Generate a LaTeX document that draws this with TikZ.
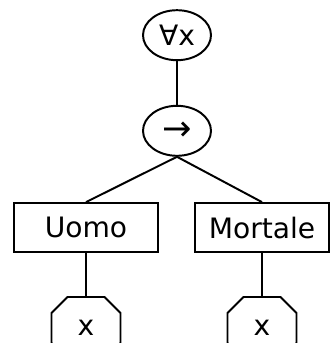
\documentclass[tikz,border=0pt]{standalone}
\usepackage{fontspec}
\setmainfont{DejaVu Sans}
\usepackage{tikz}
\usetikzlibrary{shapes.misc, positioning}
\usetikzlibrary{shapes.geometric}
\tikzstyle{quant} = [ellipse, minimum width=1.7cm, minimum height=1.25cm, inner sep=0pt, text centered, draw=black]
\tikzstyle{pred} = [rectangle, minimum width=3.6cm, minimum height=1.225cm, text centered, draw=black]
\tikzstyle{var} = [chamfered rectangle, chamfered rectangle xsep=0.325cm, chamfered rectangle ysep=0.325cm, minimum width=1.725cm, minimum height=1.55cm, inner sep=0pt, text centered, draw=black]
\tikzstyle{link} = [line width=1.4pt]

\begin{document}
\begin{tikzpicture}[node distance=2.42cm, line width=1.4pt, font=\fontsize{20}{24}\selectfont]
    \useasboundingbox (-4.425,0.85) rectangle (3.825,-7.725);
    \node (forall) [quant, yshift=-0.03cm]{∀x};
    \node (impl) [quant, below of = forall, yshift=0.03cm, font=\fontsize{25}{28}\selectfont]{→};
    \node (uomo) [pred, below of = impl, xshift=-2.275cm]{Uomo};
    \node (mortale) [pred, below of = impl, xshift=2.125cm, minimum width=3.35cm]{Mortale};
    \node (x1) [var, below of = uomo, yshift=-0.09cm]{x};
    \node (x2) [var, below of = mortale, yshift=-0.09cm]{x};
    \draw[link] (forall)--(impl);
    \draw[link] (impl.south)--(uomo.north);
    \draw[link] (impl.south)--(mortale.north);
    \draw[link] (uomo)--(x1);
    \draw[link] (mortale)--(x2);
\end{tikzpicture}
\end{document}
